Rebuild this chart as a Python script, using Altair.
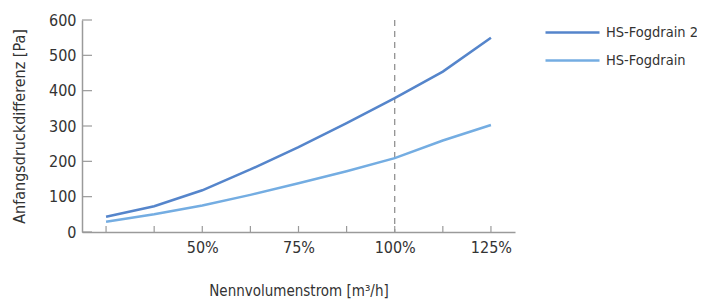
import altair as alt
import pandas as pd

x_vals = [25, 37.5, 50, 62.5, 75, 87.5, 100, 112.5, 125]
fog2 = [43, 73, 118, 177, 240, 308, 379, 454, 550]
fog1 = [29, 50, 75, 105, 138, 172, 209, 259, 303]
series = ["HS-Fogdrain 2", "HS-Fogdrain"]
colors = ["#5585cb", "#74ade2"]
x_ticks = [25, 37.5, 50, 62.5, 75, 87.5, 100, 112.5, 125]
y_ticks = [0, 100, 200, 300, 400, 500, 600]
ref_x = [100]

FONT = "Liberation Sans Narrow, DejaVu Sans Condensed, sans-serif"
AX = "#9a9a9a"
W, H = 433, 212

rows = []
for x, a, b in zip(x_vals, fog2, fog1):
    rows.append({"x": x, "y": a, "s": series[0]})
    rows.append({"x": x, "y": b, "s": series[1]})
df = pd.DataFrame(rows)

xs = alt.Scale(domain=[18.75, 131.25], nice=False, zero=False)
ys = alt.Scale(domain=[0, 600], nice=False)

xaxis = alt.Axis(values=x_ticks, ticks=False, labelPadding=7, labelOverlap=False,
                 labelExpr="datum.value >= 50 && datum.value % 25 == 0 ? datum.value + '%' : ''",
                 title="Nennvolumenstrom [m³/h]", titlePadding=28, grid=False)
yaxis = alt.Axis(values=y_ticks, ticks=False, labelPadding=6, labelOverlap=False,
                 title="Anfangsdruckdifferenz [Pa]", titlePadding=21,
                 titleFontSize=16, grid=False)

lines = alt.Chart(df).mark_line(strokeWidth=2.5).encode(
    x=alt.X("x:Q", scale=xs, axis=xaxis),
    y=alt.Y("y:Q", scale=ys, axis=yaxis),
    color=alt.Color("s:N", scale=alt.Scale(domain=series, range=colors), sort=series,
                    legend=alt.Legend(title=None, orient="none", legendX=480, legendY=2,
                                      symbolType="M-3,0H3", symbolSize=324,
                                      symbolStrokeWidth=2.5, labelOffset=23,
                                      rowPadding=11, labelFontSize=14.5, labelFont=FONT,
                                      labelColor="#333333", labelLimit=200)),
)

rule = alt.Chart(pd.DataFrame({"x": ref_x})).mark_rule(
    color="#888888", strokeDash=[6, 5], strokeWidth=1.2
).encode(x=alt.X("x:Q", scale=xs, axis=xaxis))

xt = alt.Chart(pd.DataFrame({"x": x_ticks})).mark_rule(color=AX, strokeWidth=1.2).encode(
    x=alt.X("x:Q", scale=xs, axis=xaxis), y=alt.value(H), y2=alt.value(H - 6)
)
yt = alt.Chart(pd.DataFrame({"y": y_ticks})).mark_rule(color=AX, strokeWidth=1.2).encode(
    y=alt.Y("y:Q", scale=ys, axis=yaxis), x=alt.value(0), x2=alt.value(10)
)

chart = alt.layer(rule, xt, yt, lines).properties(
    width=W, height=H,
    autosize=alt.AutoSizeParams(type="none"),
    padding={"left": 74, "top": 12, "right": 182, "bottom": 72},
).configure_view(stroke=None).configure_axis(
    domainColor=AX, domainWidth=1.5, labelFont=FONT, titleFont=FONT,
    labelFontSize=16, titleFontSize=15, labelColor="#333333", titleColor="#333333",
    titleFontWeight="normal",
)

chart.save("out.html", embed_options={"renderer": "svg", "actions": False})
